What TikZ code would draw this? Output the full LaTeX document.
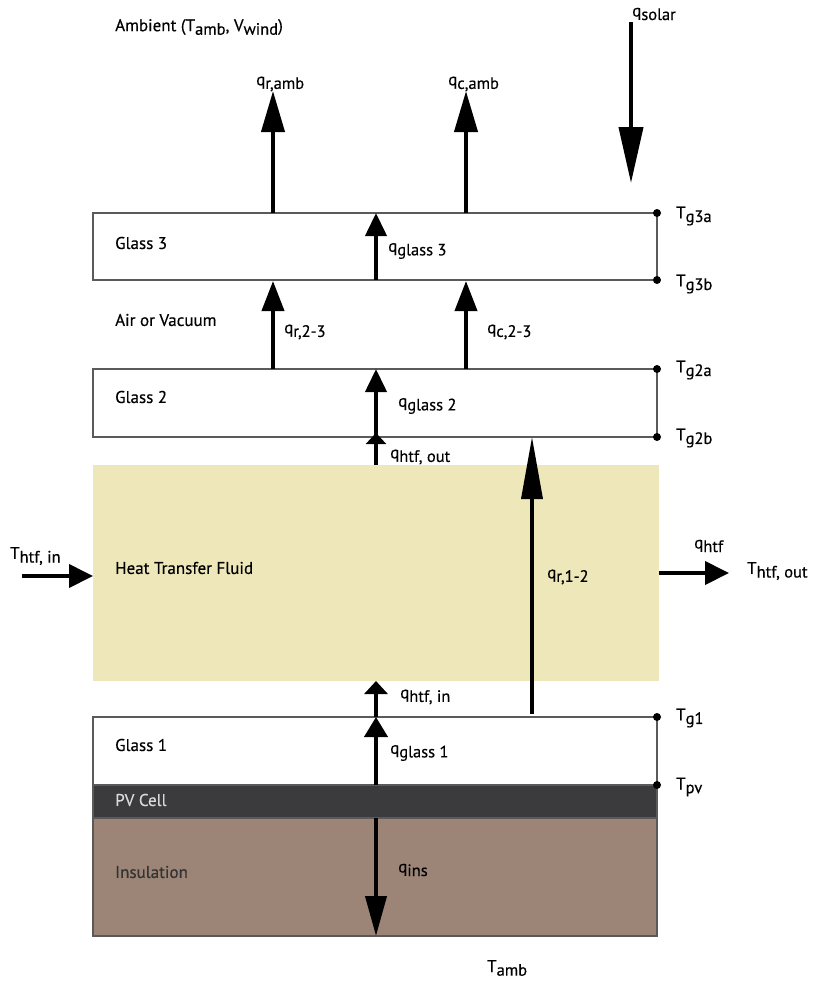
\documentclass[tikz,border=0pt]{standalone}
\usepackage{fontspec}
\setmainfont{PT Sans}[FakeBold=0.35]
\usetikzlibrary{arrows.meta}
\newcommand{\lsub}[1]{\raisebox{-0.42ex}{\fontsize{16.5}{17}\selectfont #1}}
\definecolor{htf}{HTML}{EDE7B9}
\definecolor{pv}{HTML}{3B3A3C}
\definecolor{ins}{HTML}{9C8576}
\definecolor{frame}{HTML}{5A5A5A}
\begin{document}
\begin{tikzpicture}[x=1pt,y=-1pt,
  lbl/.style={anchor=west,inner sep=0pt,font=\fontsize{17}{19}\selectfont},
  layer/.style={draw=frame,line width=1.4pt},
  flow/.style={line width=4pt,-{Triangle[width=23pt,length=41pt]}},
  mflow/.style={line width=4pt,-{Triangle[width=22pt,length=30pt]}},
  sflow/.style={line width=4pt,-{Triangle[width=21pt,length=23pt]}},
  hflow/.style={line width=4pt,-{Triangle[width=23pt,length=24pt]}},
  dot/.style={circle,fill=black,inner sep=0pt,minimum size=8pt}]
\useasboundingbox (0,0) rectangle (812,983);
% layers
\fill[htf] (93,465) rectangle (659,681);
\draw[layer,fill=white] (93,213) rectangle (657,280);
\draw[layer,fill=white] (93,369) rectangle (657,437);
\draw[layer,fill=white] (93,717) rectangle (657,785);
\draw[layer,fill=pv] (93,785) rectangle (657,818);
\draw[layer,fill=ins] (93,818) rectangle (657,936);
% right side temperature points
\draw[frame,line width=1.4pt] (657,213) -- (657,280) (657,369) -- (657,437) (657,717) -- (657,785);
\node[dot] (g3a) at (657,213) {};
\node[dot] (g3b) at (657,280) {};
\node[dot] (g2a) at (657,369) {};
\node[dot] (g2b) at (657,437) {};
\node[dot] (g1) at (657,717) {};
\node[dot] (tpv) at (657,785) {};
\node[lbl] (Tg3a) at (676,216) {T\lsub{g3a}};
\node[lbl] (Tg3b) at (676,284) {T\lsub{g3b}};
\node[lbl] (Tg2a) at (676,370) {T\lsub{g2a}};
\node[lbl] (Tg2b) at (676,438) {T\lsub{g2b}};
\node[lbl] (Tg1) at (676,718) {T\lsub{g1}};
\node[lbl] (Tpv) at (676,787) {T\lsub{pv}};
% layer labels
\node[lbl] (amb) at (115,27) {Ambient (T\lsub{amb}, V\lsub{wind})};
\node[lbl] (gl3) at (115,243) {Glass 3};
\node[lbl] (air) at (115,320) {Air or Vacuum};
\node[lbl] (gl2) at (115,397) {Glass 2};
\node[lbl] (htfl) at (115,568) {Heat Transfer Fluid};
\node[lbl] (gl1) at (115,745) {Glass 1};
\node[lbl,text=white!85!black] (pvl) at (115,800) {PV Cell};
\node[lbl,text=black!80] (insl) at (115,872) {Insulation};
\node[lbl] (Tamb) at (487,968) {T\lsub{amb}};
% coordinates
\coordinate (ramb0) at (273,213); \coordinate (ramb1) at (273,91);
\coordinate (camb0) at (466,213); \coordinate (camb1) at (466,91);
\coordinate (sol0) at (631,22); \coordinate (sol1) at (631,183);
\coordinate (g30) at (376,280); \coordinate (g31) at (376,213);
\coordinate (r230) at (273,369); \coordinate (r231) at (273,281);
\coordinate (c230) at (466,369); \coordinate (c231) at (466,281);
\coordinate (g20) at (376,437); \coordinate (g21) at (376,369);
\coordinate (ho0) at (376,465); \coordinate (ho1) at (376,433);
\coordinate (r120) at (532,714); \coordinate (r121) at (532,437);
\coordinate (hi0) at (376,717); \coordinate (hi1) at (376,681);
\coordinate (g10) at (376,785); \coordinate (g11) at (376,717);
\coordinate (ins0) at (376,818); \coordinate (ins1) at (376,936);
\coordinate (tin0) at (22,576); \coordinate (tin1) at (93,576);
\coordinate (tout0) at (659,573); \coordinate (tout1) at (729,573);
% arrows
\draw[flow] (ramb0) -- (ramb1);
\draw[flow] (camb0) -- (camb1);
\draw[line width=4pt,-{Triangle[width=24pt,length=56pt]}] (sol0) -- (sol1);
\draw[sflow] (g30) -- (g31);
\draw[mflow] (r230) -- (r231);
\draw[mflow] (c230) -- (c231);
\draw[sflow] (g20) -- (g21);
\draw[line width=4pt,-{Triangle[width=20pt,length=11pt]}] (ho0) -- (ho1);
\draw[line width=3.5pt,-{Triangle[width=21pt,length=62pt]}] (r120) -- (r121);
\draw[line width=4pt,-{Triangle[width=23pt,length=13pt]}] (hi0) -- (hi1);
\draw[line width=4pt,-{Triangle[width=23pt,length=20pt]}] (g10) -- (g11);
\draw[line width=4pt,-{Triangle[width=21pt,length=40pt]}] (ins0) -- (ins1);
\draw[hflow] (tin0) -- (tin1);
\draw[hflow] (tout0) -- (tout1);
% flow labels
\node[lbl] (qramb) at (256,84) {q\lsub{r,amb}};
\node[lbl] (qcamb) at (448,84) {q\lsub{c,amb}};
\node[lbl] (qsol) at (632,14) {q\lsub{solar}};
\node[lbl] (qg3) at (388,251) {q\lsub{glass 3}};
\node[lbl] (qr23) at (284,332) {q\lsub{r,2-3}};
\node[lbl] (qc23) at (487,332) {q\lsub{c,2-3}};
\node[lbl] (qg2) at (398,406) {q\lsub{glass 2}};
\node[lbl] (qho) at (390,457) {q\lsub{htf, out}};
\node[lbl] (Tin) at (10,556) {T\lsub{htf, in}};
\node[lbl] (qr12) at (547,577) {q\lsub{r,1-2}};
\node[lbl] (qhtf) at (694,546) {q\lsub{htf}};
\node[lbl] (Tout) at (747,571) {T\lsub{htf, out}};
\node[lbl] (qhi) at (400,697) {q\lsub{htf, in}};
\node[lbl] (qg1) at (390,753) {q\lsub{glass 1}};
\node[lbl] (qins) at (398,870) {q\lsub{ins}};
\end{tikzpicture}
\end{document}
